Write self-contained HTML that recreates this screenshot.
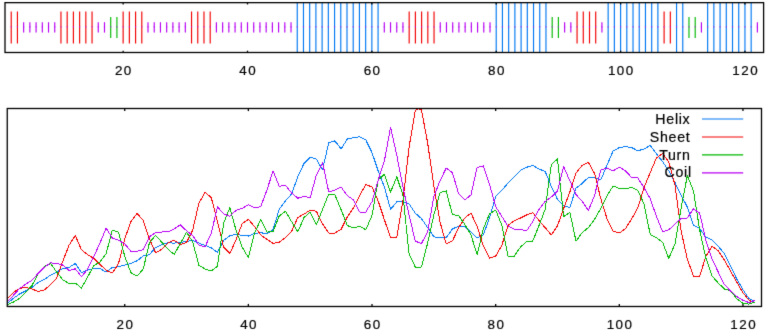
<!DOCTYPE html>
<html><head><meta charset="utf-8"><style>
html,body{margin:0;padding:0;background:#fff;}
body{width:767px;height:331px;overflow:hidden;}
svg{display:block;}
#w{width:767px;height:331px;}
text{font-family:"Liberation Sans",sans-serif;fill:#000;}
text.n{font-size:13.4px;text-anchor:middle;letter-spacing:1.5px;stroke:#000;stroke-width:0.2px;}
text.l{font-size:14.2px;text-anchor:end;letter-spacing:0.7px;stroke:#000;stroke-width:0.2px;}
</style></head><body>
<div id="w"><svg width="767" height="331" viewBox="0 0 767 331">
<defs><filter id="sf" x="0" y="0" width="100%" height="100%" filterUnits="userSpaceOnUse" color-interpolation-filters="sRGB"><feConvolveMatrix order="3" kernelMatrix="0.01000 0.08000 0.01000 0.08000 0.64000 0.08000 0.01000 0.08000 0.01000" edgeMode="duplicate" preserveAlpha="false"/></filter></defs>
<g filter="url(#sf)">
<rect width="767" height="331" fill="#fff"/>
<line x1="11.22" y1="11.5" x2="11.22" y2="43.5" stroke="#f20000" stroke-width="1.15"/>
<line x1="17.44" y1="11.5" x2="17.44" y2="43.5" stroke="#f20000" stroke-width="1.15"/>
<line x1="23.65" y1="22.2" x2="23.65" y2="32.6" stroke="#b800f2" stroke-width="1.15"/>
<line x1="29.87" y1="22.2" x2="29.87" y2="32.6" stroke="#b800f2" stroke-width="1.15"/>
<line x1="36.09" y1="22.2" x2="36.09" y2="32.6" stroke="#b800f2" stroke-width="1.15"/>
<line x1="42.31" y1="22.2" x2="42.31" y2="32.6" stroke="#b800f2" stroke-width="1.15"/>
<line x1="48.53" y1="22.2" x2="48.53" y2="32.6" stroke="#b800f2" stroke-width="1.15"/>
<line x1="54.74" y1="22.2" x2="54.74" y2="32.6" stroke="#b800f2" stroke-width="1.15"/>
<line x1="60.96" y1="11.5" x2="60.96" y2="43.5" stroke="#f20000" stroke-width="1.15"/>
<line x1="67.18" y1="11.5" x2="67.18" y2="43.5" stroke="#f20000" stroke-width="1.15"/>
<line x1="73.40" y1="11.5" x2="73.40" y2="43.5" stroke="#f20000" stroke-width="1.15"/>
<line x1="79.62" y1="11.5" x2="79.62" y2="43.5" stroke="#f20000" stroke-width="1.15"/>
<line x1="85.83" y1="11.5" x2="85.83" y2="43.5" stroke="#f20000" stroke-width="1.15"/>
<line x1="92.05" y1="11.5" x2="92.05" y2="43.5" stroke="#f20000" stroke-width="1.15"/>
<line x1="98.27" y1="22.2" x2="98.27" y2="32.6" stroke="#b800f2" stroke-width="1.15"/>
<line x1="104.49" y1="22.2" x2="104.49" y2="32.6" stroke="#b800f2" stroke-width="1.15"/>
<line x1="110.71" y1="17.0" x2="110.71" y2="38.0" stroke="#00b800" stroke-width="1.15"/>
<line x1="116.92" y1="17.0" x2="116.92" y2="38.0" stroke="#00b800" stroke-width="1.15"/>
<line x1="123.14" y1="11.5" x2="123.14" y2="43.5" stroke="#f20000" stroke-width="1.15"/>
<line x1="129.36" y1="11.5" x2="129.36" y2="43.5" stroke="#f20000" stroke-width="1.15"/>
<line x1="135.58" y1="11.5" x2="135.58" y2="43.5" stroke="#f20000" stroke-width="1.15"/>
<line x1="141.80" y1="11.5" x2="141.80" y2="43.5" stroke="#f20000" stroke-width="1.15"/>
<line x1="148.01" y1="22.2" x2="148.01" y2="32.6" stroke="#b800f2" stroke-width="1.15"/>
<line x1="154.23" y1="22.2" x2="154.23" y2="32.6" stroke="#b800f2" stroke-width="1.15"/>
<line x1="160.45" y1="22.2" x2="160.45" y2="32.6" stroke="#b800f2" stroke-width="1.15"/>
<line x1="166.67" y1="22.2" x2="166.67" y2="32.6" stroke="#b800f2" stroke-width="1.15"/>
<line x1="172.89" y1="22.2" x2="172.89" y2="32.6" stroke="#b800f2" stroke-width="1.15"/>
<line x1="179.10" y1="22.2" x2="179.10" y2="32.6" stroke="#b800f2" stroke-width="1.15"/>
<line x1="185.32" y1="22.2" x2="185.32" y2="32.6" stroke="#b800f2" stroke-width="1.15"/>
<line x1="191.54" y1="11.5" x2="191.54" y2="43.5" stroke="#f20000" stroke-width="1.15"/>
<line x1="197.76" y1="11.5" x2="197.76" y2="43.5" stroke="#f20000" stroke-width="1.15"/>
<line x1="203.98" y1="11.5" x2="203.98" y2="43.5" stroke="#f20000" stroke-width="1.15"/>
<line x1="210.20" y1="11.5" x2="210.20" y2="43.5" stroke="#f20000" stroke-width="1.15"/>
<line x1="216.41" y1="22.2" x2="216.41" y2="32.6" stroke="#b800f2" stroke-width="1.15"/>
<line x1="222.63" y1="22.2" x2="222.63" y2="32.6" stroke="#b800f2" stroke-width="1.15"/>
<line x1="228.85" y1="22.2" x2="228.85" y2="32.6" stroke="#b800f2" stroke-width="1.15"/>
<line x1="235.07" y1="22.2" x2="235.07" y2="32.6" stroke="#b800f2" stroke-width="1.15"/>
<line x1="241.29" y1="22.2" x2="241.29" y2="32.6" stroke="#b800f2" stroke-width="1.15"/>
<line x1="247.50" y1="22.2" x2="247.50" y2="32.6" stroke="#b800f2" stroke-width="1.15"/>
<line x1="253.72" y1="22.2" x2="253.72" y2="32.6" stroke="#b800f2" stroke-width="1.15"/>
<line x1="259.94" y1="22.2" x2="259.94" y2="32.6" stroke="#b800f2" stroke-width="1.15"/>
<line x1="266.16" y1="22.2" x2="266.16" y2="32.6" stroke="#b800f2" stroke-width="1.15"/>
<line x1="272.38" y1="22.2" x2="272.38" y2="32.6" stroke="#b800f2" stroke-width="1.15"/>
<line x1="278.59" y1="22.2" x2="278.59" y2="32.6" stroke="#b800f2" stroke-width="1.15"/>
<line x1="284.81" y1="22.2" x2="284.81" y2="32.6" stroke="#b800f2" stroke-width="1.15"/>
<line x1="291.03" y1="22.2" x2="291.03" y2="32.6" stroke="#b800f2" stroke-width="1.15"/>
<line x1="297.25" y1="2.65" x2="297.25" y2="52.5" stroke="#0078f2" stroke-width="1.15"/>
<line x1="303.47" y1="2.65" x2="303.47" y2="52.5" stroke="#0078f2" stroke-width="1.15"/>
<line x1="309.68" y1="2.65" x2="309.68" y2="52.5" stroke="#0078f2" stroke-width="1.15"/>
<line x1="315.90" y1="2.65" x2="315.90" y2="52.5" stroke="#0078f2" stroke-width="1.15"/>
<line x1="322.12" y1="2.65" x2="322.12" y2="52.5" stroke="#0078f2" stroke-width="1.15"/>
<line x1="328.34" y1="2.65" x2="328.34" y2="52.5" stroke="#0078f2" stroke-width="1.15"/>
<line x1="334.56" y1="2.65" x2="334.56" y2="52.5" stroke="#0078f2" stroke-width="1.15"/>
<line x1="340.77" y1="2.65" x2="340.77" y2="52.5" stroke="#0078f2" stroke-width="1.15"/>
<line x1="346.99" y1="2.65" x2="346.99" y2="52.5" stroke="#0078f2" stroke-width="1.15"/>
<line x1="353.21" y1="2.65" x2="353.21" y2="52.5" stroke="#0078f2" stroke-width="1.15"/>
<line x1="359.43" y1="2.65" x2="359.43" y2="52.5" stroke="#0078f2" stroke-width="1.15"/>
<line x1="365.65" y1="2.65" x2="365.65" y2="52.5" stroke="#0078f2" stroke-width="1.15"/>
<line x1="371.86" y1="2.65" x2="371.86" y2="52.5" stroke="#0078f2" stroke-width="1.15"/>
<line x1="378.08" y1="2.65" x2="378.08" y2="52.5" stroke="#0078f2" stroke-width="1.15"/>
<line x1="384.30" y1="22.2" x2="384.30" y2="32.6" stroke="#b800f2" stroke-width="1.15"/>
<line x1="390.52" y1="22.2" x2="390.52" y2="32.6" stroke="#b800f2" stroke-width="1.15"/>
<line x1="396.74" y1="22.2" x2="396.74" y2="32.6" stroke="#b800f2" stroke-width="1.15"/>
<line x1="402.95" y1="22.2" x2="402.95" y2="32.6" stroke="#b800f2" stroke-width="1.15"/>
<line x1="409.17" y1="11.5" x2="409.17" y2="43.5" stroke="#f20000" stroke-width="1.15"/>
<line x1="415.39" y1="11.5" x2="415.39" y2="43.5" stroke="#f20000" stroke-width="1.15"/>
<line x1="421.61" y1="11.5" x2="421.61" y2="43.5" stroke="#f20000" stroke-width="1.15"/>
<line x1="427.83" y1="11.5" x2="427.83" y2="43.5" stroke="#f20000" stroke-width="1.15"/>
<line x1="434.04" y1="11.5" x2="434.04" y2="43.5" stroke="#f20000" stroke-width="1.15"/>
<line x1="440.26" y1="22.2" x2="440.26" y2="32.6" stroke="#b800f2" stroke-width="1.15"/>
<line x1="446.48" y1="22.2" x2="446.48" y2="32.6" stroke="#b800f2" stroke-width="1.15"/>
<line x1="452.70" y1="22.2" x2="452.70" y2="32.6" stroke="#b800f2" stroke-width="1.15"/>
<line x1="458.92" y1="22.2" x2="458.92" y2="32.6" stroke="#b800f2" stroke-width="1.15"/>
<line x1="465.13" y1="22.2" x2="465.13" y2="32.6" stroke="#b800f2" stroke-width="1.15"/>
<line x1="471.35" y1="22.2" x2="471.35" y2="32.6" stroke="#b800f2" stroke-width="1.15"/>
<line x1="477.57" y1="22.2" x2="477.57" y2="32.6" stroke="#b800f2" stroke-width="1.15"/>
<line x1="483.79" y1="22.2" x2="483.79" y2="32.6" stroke="#b800f2" stroke-width="1.15"/>
<line x1="490.01" y1="22.2" x2="490.01" y2="32.6" stroke="#b800f2" stroke-width="1.15"/>
<line x1="496.22" y1="2.65" x2="496.22" y2="52.5" stroke="#0078f2" stroke-width="1.15"/>
<line x1="502.44" y1="2.65" x2="502.44" y2="52.5" stroke="#0078f2" stroke-width="1.15"/>
<line x1="508.66" y1="2.65" x2="508.66" y2="52.5" stroke="#0078f2" stroke-width="1.15"/>
<line x1="514.88" y1="2.65" x2="514.88" y2="52.5" stroke="#0078f2" stroke-width="1.15"/>
<line x1="521.10" y1="2.65" x2="521.10" y2="52.5" stroke="#0078f2" stroke-width="1.15"/>
<line x1="527.31" y1="2.65" x2="527.31" y2="52.5" stroke="#0078f2" stroke-width="1.15"/>
<line x1="533.53" y1="2.65" x2="533.53" y2="52.5" stroke="#0078f2" stroke-width="1.15"/>
<line x1="539.75" y1="2.65" x2="539.75" y2="52.5" stroke="#0078f2" stroke-width="1.15"/>
<line x1="545.97" y1="2.65" x2="545.97" y2="52.5" stroke="#0078f2" stroke-width="1.15"/>
<line x1="552.19" y1="17.0" x2="552.19" y2="38.0" stroke="#00b800" stroke-width="1.15"/>
<line x1="558.40" y1="17.0" x2="558.40" y2="38.0" stroke="#00b800" stroke-width="1.15"/>
<line x1="564.62" y1="22.2" x2="564.62" y2="32.6" stroke="#b800f2" stroke-width="1.15"/>
<line x1="570.84" y1="22.2" x2="570.84" y2="32.6" stroke="#b800f2" stroke-width="1.15"/>
<line x1="577.06" y1="11.5" x2="577.06" y2="43.5" stroke="#f20000" stroke-width="1.15"/>
<line x1="583.28" y1="11.5" x2="583.28" y2="43.5" stroke="#f20000" stroke-width="1.15"/>
<line x1="589.50" y1="11.5" x2="589.50" y2="43.5" stroke="#f20000" stroke-width="1.15"/>
<line x1="595.71" y1="11.5" x2="595.71" y2="43.5" stroke="#f20000" stroke-width="1.15"/>
<line x1="601.93" y1="22.2" x2="601.93" y2="32.6" stroke="#b800f2" stroke-width="1.15"/>
<line x1="608.15" y1="2.65" x2="608.15" y2="52.5" stroke="#0078f2" stroke-width="1.15"/>
<line x1="614.37" y1="2.65" x2="614.37" y2="52.5" stroke="#0078f2" stroke-width="1.15"/>
<line x1="620.59" y1="2.65" x2="620.59" y2="52.5" stroke="#0078f2" stroke-width="1.15"/>
<line x1="626.80" y1="2.65" x2="626.80" y2="52.5" stroke="#0078f2" stroke-width="1.15"/>
<line x1="633.02" y1="2.65" x2="633.02" y2="52.5" stroke="#0078f2" stroke-width="1.15"/>
<line x1="639.24" y1="2.65" x2="639.24" y2="52.5" stroke="#0078f2" stroke-width="1.15"/>
<line x1="645.46" y1="2.65" x2="645.46" y2="52.5" stroke="#0078f2" stroke-width="1.15"/>
<line x1="651.68" y1="2.65" x2="651.68" y2="52.5" stroke="#0078f2" stroke-width="1.15"/>
<line x1="657.89" y1="2.65" x2="657.89" y2="52.5" stroke="#0078f2" stroke-width="1.15"/>
<line x1="664.11" y1="11.5" x2="664.11" y2="43.5" stroke="#f20000" stroke-width="1.15"/>
<line x1="670.33" y1="11.5" x2="670.33" y2="43.5" stroke="#f20000" stroke-width="1.15"/>
<line x1="676.55" y1="2.65" x2="676.55" y2="52.5" stroke="#0078f2" stroke-width="1.15"/>
<line x1="682.77" y1="2.65" x2="682.77" y2="52.5" stroke="#0078f2" stroke-width="1.15"/>
<line x1="688.98" y1="17.0" x2="688.98" y2="38.0" stroke="#00b800" stroke-width="1.15"/>
<line x1="695.20" y1="17.0" x2="695.20" y2="38.0" stroke="#00b800" stroke-width="1.15"/>
<line x1="701.42" y1="22.2" x2="701.42" y2="32.6" stroke="#b800f2" stroke-width="1.15"/>
<line x1="707.64" y1="2.65" x2="707.64" y2="52.5" stroke="#0078f2" stroke-width="1.15"/>
<line x1="713.86" y1="2.65" x2="713.86" y2="52.5" stroke="#0078f2" stroke-width="1.15"/>
<line x1="720.07" y1="2.65" x2="720.07" y2="52.5" stroke="#0078f2" stroke-width="1.15"/>
<line x1="726.29" y1="2.65" x2="726.29" y2="52.5" stroke="#0078f2" stroke-width="1.15"/>
<line x1="732.51" y1="2.65" x2="732.51" y2="52.5" stroke="#0078f2" stroke-width="1.15"/>
<line x1="738.73" y1="2.65" x2="738.73" y2="52.5" stroke="#0078f2" stroke-width="1.15"/>
<line x1="744.95" y1="2.65" x2="744.95" y2="52.5" stroke="#0078f2" stroke-width="1.15"/>
<line x1="751.16" y1="2.65" x2="751.16" y2="52.5" stroke="#0078f2" stroke-width="1.15"/>
<line x1="757.38" y1="22.2" x2="757.38" y2="32.6" stroke="#b800f2" stroke-width="1.15"/>
<rect x="10.62" y="26.30" width="1.2" height="1.1" fill="#b000f0" opacity="0.75"/>
<rect x="16.84" y="26.30" width="1.2" height="1.1" fill="#b000f0" opacity="0.75"/>
<rect x="23.05" y="26.30" width="1.2" height="1.1" fill="#b000f0" opacity="0.75"/>
<rect x="29.27" y="26.30" width="1.2" height="1.1" fill="#b000f0" opacity="0.75"/>
<rect x="35.49" y="26.30" width="1.2" height="1.1" fill="#b000f0" opacity="0.75"/>
<rect x="41.71" y="26.30" width="1.2" height="1.1" fill="#b000f0" opacity="0.75"/>
<rect x="47.93" y="26.30" width="1.2" height="1.1" fill="#b000f0" opacity="0.75"/>
<rect x="54.14" y="26.30" width="1.2" height="1.1" fill="#b000f0" opacity="0.75"/>
<rect x="60.36" y="26.30" width="1.2" height="1.1" fill="#b000f0" opacity="0.75"/>
<rect x="66.58" y="26.30" width="1.2" height="1.1" fill="#b000f0" opacity="0.75"/>
<rect x="72.80" y="26.30" width="1.2" height="1.1" fill="#b000f0" opacity="0.75"/>
<rect x="79.02" y="26.30" width="1.2" height="1.1" fill="#b000f0" opacity="0.75"/>
<rect x="85.23" y="26.30" width="1.2" height="1.1" fill="#b000f0" opacity="0.75"/>
<rect x="91.45" y="26.30" width="1.2" height="1.1" fill="#b000f0" opacity="0.75"/>
<rect x="97.67" y="26.30" width="1.2" height="1.1" fill="#b000f0" opacity="0.75"/>
<rect x="103.89" y="26.30" width="1.2" height="1.1" fill="#b000f0" opacity="0.75"/>
<rect x="110.11" y="26.30" width="1.2" height="1.1" fill="#b000f0" opacity="0.75"/>
<rect x="116.32" y="26.30" width="1.2" height="1.1" fill="#b000f0" opacity="0.75"/>
<rect x="122.54" y="26.30" width="1.2" height="1.1" fill="#b000f0" opacity="0.75"/>
<rect x="128.76" y="26.30" width="1.2" height="1.1" fill="#b000f0" opacity="0.75"/>
<rect x="134.98" y="26.30" width="1.2" height="1.1" fill="#b000f0" opacity="0.75"/>
<rect x="141.20" y="26.30" width="1.2" height="1.1" fill="#b000f0" opacity="0.75"/>
<rect x="147.41" y="26.30" width="1.2" height="1.1" fill="#b000f0" opacity="0.75"/>
<rect x="153.63" y="26.30" width="1.2" height="1.1" fill="#b000f0" opacity="0.75"/>
<rect x="159.85" y="26.30" width="1.2" height="1.1" fill="#b000f0" opacity="0.75"/>
<rect x="166.07" y="26.30" width="1.2" height="1.1" fill="#b000f0" opacity="0.75"/>
<rect x="172.29" y="26.30" width="1.2" height="1.1" fill="#b000f0" opacity="0.75"/>
<rect x="178.50" y="26.30" width="1.2" height="1.1" fill="#b000f0" opacity="0.75"/>
<rect x="184.72" y="26.30" width="1.2" height="1.1" fill="#b000f0" opacity="0.75"/>
<rect x="190.94" y="26.30" width="1.2" height="1.1" fill="#b000f0" opacity="0.75"/>
<rect x="197.16" y="26.30" width="1.2" height="1.1" fill="#b000f0" opacity="0.75"/>
<rect x="203.38" y="26.30" width="1.2" height="1.1" fill="#b000f0" opacity="0.75"/>
<rect x="209.60" y="26.30" width="1.2" height="1.1" fill="#b000f0" opacity="0.75"/>
<rect x="215.81" y="26.30" width="1.2" height="1.1" fill="#b000f0" opacity="0.75"/>
<rect x="222.03" y="26.30" width="1.2" height="1.1" fill="#b000f0" opacity="0.75"/>
<rect x="228.25" y="26.30" width="1.2" height="1.1" fill="#b000f0" opacity="0.75"/>
<rect x="234.47" y="26.30" width="1.2" height="1.1" fill="#b000f0" opacity="0.75"/>
<rect x="240.69" y="26.30" width="1.2" height="1.1" fill="#b000f0" opacity="0.75"/>
<rect x="246.90" y="26.30" width="1.2" height="1.1" fill="#b000f0" opacity="0.75"/>
<rect x="253.12" y="26.30" width="1.2" height="1.1" fill="#b000f0" opacity="0.75"/>
<rect x="259.34" y="26.30" width="1.2" height="1.1" fill="#b000f0" opacity="0.75"/>
<rect x="265.56" y="26.30" width="1.2" height="1.1" fill="#b000f0" opacity="0.75"/>
<rect x="271.78" y="26.30" width="1.2" height="1.1" fill="#b000f0" opacity="0.75"/>
<rect x="277.99" y="26.30" width="1.2" height="1.1" fill="#b000f0" opacity="0.75"/>
<rect x="284.21" y="26.30" width="1.2" height="1.1" fill="#b000f0" opacity="0.75"/>
<rect x="290.43" y="26.30" width="1.2" height="1.1" fill="#b000f0" opacity="0.75"/>
<rect x="296.65" y="26.30" width="1.2" height="1.1" fill="#b000f0" opacity="0.75"/>
<rect x="302.87" y="26.30" width="1.2" height="1.1" fill="#b000f0" opacity="0.75"/>
<rect x="309.08" y="26.30" width="1.2" height="1.1" fill="#b000f0" opacity="0.75"/>
<rect x="315.30" y="26.30" width="1.2" height="1.1" fill="#b000f0" opacity="0.75"/>
<rect x="321.52" y="26.30" width="1.2" height="1.1" fill="#b000f0" opacity="0.75"/>
<rect x="327.74" y="26.30" width="1.2" height="1.1" fill="#b000f0" opacity="0.75"/>
<rect x="333.96" y="26.30" width="1.2" height="1.1" fill="#b000f0" opacity="0.75"/>
<rect x="340.17" y="26.30" width="1.2" height="1.1" fill="#b000f0" opacity="0.75"/>
<rect x="346.39" y="26.30" width="1.2" height="1.1" fill="#b000f0" opacity="0.75"/>
<rect x="352.61" y="26.30" width="1.2" height="1.1" fill="#b000f0" opacity="0.75"/>
<rect x="358.83" y="26.30" width="1.2" height="1.1" fill="#b000f0" opacity="0.75"/>
<rect x="365.05" y="26.30" width="1.2" height="1.1" fill="#b000f0" opacity="0.75"/>
<rect x="371.26" y="26.30" width="1.2" height="1.1" fill="#b000f0" opacity="0.75"/>
<rect x="377.48" y="26.30" width="1.2" height="1.1" fill="#b000f0" opacity="0.75"/>
<rect x="383.70" y="26.30" width="1.2" height="1.1" fill="#b000f0" opacity="0.75"/>
<rect x="389.92" y="26.30" width="1.2" height="1.1" fill="#b000f0" opacity="0.75"/>
<rect x="396.14" y="26.30" width="1.2" height="1.1" fill="#b000f0" opacity="0.75"/>
<rect x="402.35" y="26.30" width="1.2" height="1.1" fill="#b000f0" opacity="0.75"/>
<rect x="408.57" y="26.30" width="1.2" height="1.1" fill="#b000f0" opacity="0.75"/>
<rect x="414.79" y="26.30" width="1.2" height="1.1" fill="#b000f0" opacity="0.75"/>
<rect x="421.01" y="26.30" width="1.2" height="1.1" fill="#b000f0" opacity="0.75"/>
<rect x="427.23" y="26.30" width="1.2" height="1.1" fill="#b000f0" opacity="0.75"/>
<rect x="433.44" y="26.30" width="1.2" height="1.1" fill="#b000f0" opacity="0.75"/>
<rect x="439.66" y="26.30" width="1.2" height="1.1" fill="#b000f0" opacity="0.75"/>
<rect x="445.88" y="26.30" width="1.2" height="1.1" fill="#b000f0" opacity="0.75"/>
<rect x="452.10" y="26.30" width="1.2" height="1.1" fill="#b000f0" opacity="0.75"/>
<rect x="458.32" y="26.30" width="1.2" height="1.1" fill="#b000f0" opacity="0.75"/>
<rect x="464.53" y="26.30" width="1.2" height="1.1" fill="#b000f0" opacity="0.75"/>
<rect x="470.75" y="26.30" width="1.2" height="1.1" fill="#b000f0" opacity="0.75"/>
<rect x="476.97" y="26.30" width="1.2" height="1.1" fill="#b000f0" opacity="0.75"/>
<rect x="483.19" y="26.30" width="1.2" height="1.1" fill="#b000f0" opacity="0.75"/>
<rect x="489.41" y="26.30" width="1.2" height="1.1" fill="#b000f0" opacity="0.75"/>
<rect x="495.62" y="26.30" width="1.2" height="1.1" fill="#b000f0" opacity="0.75"/>
<rect x="501.84" y="26.30" width="1.2" height="1.1" fill="#b000f0" opacity="0.75"/>
<rect x="508.06" y="26.30" width="1.2" height="1.1" fill="#b000f0" opacity="0.75"/>
<rect x="514.28" y="26.30" width="1.2" height="1.1" fill="#b000f0" opacity="0.75"/>
<rect x="520.50" y="26.30" width="1.2" height="1.1" fill="#b000f0" opacity="0.75"/>
<rect x="526.71" y="26.30" width="1.2" height="1.1" fill="#b000f0" opacity="0.75"/>
<rect x="532.93" y="26.30" width="1.2" height="1.1" fill="#b000f0" opacity="0.75"/>
<rect x="539.15" y="26.30" width="1.2" height="1.1" fill="#b000f0" opacity="0.75"/>
<rect x="545.37" y="26.30" width="1.2" height="1.1" fill="#b000f0" opacity="0.75"/>
<rect x="551.59" y="26.30" width="1.2" height="1.1" fill="#b000f0" opacity="0.75"/>
<rect x="557.80" y="26.30" width="1.2" height="1.1" fill="#b000f0" opacity="0.75"/>
<rect x="564.02" y="26.30" width="1.2" height="1.1" fill="#b000f0" opacity="0.75"/>
<rect x="570.24" y="26.30" width="1.2" height="1.1" fill="#b000f0" opacity="0.75"/>
<rect x="576.46" y="26.30" width="1.2" height="1.1" fill="#b000f0" opacity="0.75"/>
<rect x="582.68" y="26.30" width="1.2" height="1.1" fill="#b000f0" opacity="0.75"/>
<rect x="588.90" y="26.30" width="1.2" height="1.1" fill="#b000f0" opacity="0.75"/>
<rect x="595.11" y="26.30" width="1.2" height="1.1" fill="#b000f0" opacity="0.75"/>
<rect x="601.33" y="26.30" width="1.2" height="1.1" fill="#b000f0" opacity="0.75"/>
<rect x="607.55" y="26.30" width="1.2" height="1.1" fill="#b000f0" opacity="0.75"/>
<rect x="613.77" y="26.30" width="1.2" height="1.1" fill="#b000f0" opacity="0.75"/>
<rect x="619.99" y="26.30" width="1.2" height="1.1" fill="#b000f0" opacity="0.75"/>
<rect x="626.20" y="26.30" width="1.2" height="1.1" fill="#b000f0" opacity="0.75"/>
<rect x="632.42" y="26.30" width="1.2" height="1.1" fill="#b000f0" opacity="0.75"/>
<rect x="638.64" y="26.30" width="1.2" height="1.1" fill="#b000f0" opacity="0.75"/>
<rect x="644.86" y="26.30" width="1.2" height="1.1" fill="#b000f0" opacity="0.75"/>
<rect x="651.08" y="26.30" width="1.2" height="1.1" fill="#b000f0" opacity="0.75"/>
<rect x="657.29" y="26.30" width="1.2" height="1.1" fill="#b000f0" opacity="0.75"/>
<rect x="663.51" y="26.30" width="1.2" height="1.1" fill="#b000f0" opacity="0.75"/>
<rect x="669.73" y="26.30" width="1.2" height="1.1" fill="#b000f0" opacity="0.75"/>
<rect x="675.95" y="26.30" width="1.2" height="1.1" fill="#b000f0" opacity="0.75"/>
<rect x="682.17" y="26.30" width="1.2" height="1.1" fill="#b000f0" opacity="0.75"/>
<rect x="688.38" y="26.30" width="1.2" height="1.1" fill="#b000f0" opacity="0.75"/>
<rect x="694.60" y="26.30" width="1.2" height="1.1" fill="#b000f0" opacity="0.75"/>
<rect x="700.82" y="26.30" width="1.2" height="1.1" fill="#b000f0" opacity="0.75"/>
<rect x="707.04" y="26.30" width="1.2" height="1.1" fill="#b000f0" opacity="0.75"/>
<rect x="713.26" y="26.30" width="1.2" height="1.1" fill="#b000f0" opacity="0.75"/>
<rect x="719.47" y="26.30" width="1.2" height="1.1" fill="#b000f0" opacity="0.75"/>
<rect x="725.69" y="26.30" width="1.2" height="1.1" fill="#b000f0" opacity="0.75"/>
<rect x="731.91" y="26.30" width="1.2" height="1.1" fill="#b000f0" opacity="0.75"/>
<rect x="738.13" y="26.30" width="1.2" height="1.1" fill="#b000f0" opacity="0.75"/>
<rect x="744.35" y="26.30" width="1.2" height="1.1" fill="#b000f0" opacity="0.75"/>
<rect x="750.56" y="26.30" width="1.2" height="1.1" fill="#b000f0" opacity="0.75"/>
<rect x="756.78" y="26.30" width="1.2" height="1.1" fill="#b000f0" opacity="0.75"/>
<rect x="5.0" y="2.65" width="758.60" height="49.85" fill="none" stroke="#000000" stroke-width="1.3"/>
<line x1="123.14" y1="52.5" x2="123.14" y2="50.7" stroke="#000000" stroke-width="1.3"/>
<line x1="123.14" y1="2.65" x2="123.14" y2="4.45" stroke="#000000" stroke-width="1.3"/>
<text x="123.89" y="74.6" class="n">20</text>
<line x1="247.50" y1="52.5" x2="247.50" y2="50.7" stroke="#000000" stroke-width="1.3"/>
<line x1="247.50" y1="2.65" x2="247.50" y2="4.45" stroke="#000000" stroke-width="1.3"/>
<text x="248.25" y="74.6" class="n">40</text>
<line x1="371.86" y1="52.5" x2="371.86" y2="50.7" stroke="#000000" stroke-width="1.3"/>
<line x1="371.86" y1="2.65" x2="371.86" y2="4.45" stroke="#000000" stroke-width="1.3"/>
<text x="372.61" y="74.6" class="n">60</text>
<line x1="496.22" y1="52.5" x2="496.22" y2="50.7" stroke="#000000" stroke-width="1.3"/>
<line x1="496.22" y1="2.65" x2="496.22" y2="4.45" stroke="#000000" stroke-width="1.3"/>
<text x="496.97" y="74.6" class="n">80</text>
<line x1="620.59" y1="52.5" x2="620.59" y2="50.7" stroke="#000000" stroke-width="1.3"/>
<line x1="620.59" y1="2.65" x2="620.59" y2="4.45" stroke="#000000" stroke-width="1.3"/>
<text x="621.34" y="74.6" class="n">100</text>
<line x1="744.95" y1="52.5" x2="744.95" y2="50.7" stroke="#000000" stroke-width="1.3"/>
<line x1="744.95" y1="2.65" x2="744.95" y2="4.45" stroke="#000000" stroke-width="1.3"/>
<text x="745.70" y="74.6" class="n">120</text>
<g clip-path="url(#cb)">
<polyline points="7.25,303.50 13.43,298.30 19.61,294.00 25.80,290.80 31.98,287.60 38.16,282.40 44.34,279.40 50.53,275.20 56.71,272.00 62.89,268.50 69.07,267.40 75.26,263.50 81.44,272.50 87.62,270.20 93.80,268.60 99.99,268.60 106.17,272.00 112.35,267.50 118.53,266.80 124.72,265.00 130.90,263.50 137.08,260.80 143.26,256.00 149.44,254.60 155.63,247.60 161.81,244.60 167.99,242.80 174.17,243.10 180.36,242.60 186.54,241.30 192.72,240.60 198.90,243.10 205.09,245.40 211.27,247.70 217.45,252.40 223.63,240.30 229.82,235.80 236.00,234.30 242.18,235.30 248.36,236.10 254.55,233.40 260.73,232.60 266.91,234.00 273.09,229.50 279.27,209.20 285.46,200.80 291.64,194.00 297.82,176.50 304.00,163.50 310.19,157.20 316.37,159.00 322.55,169.90 328.73,142.70 334.92,140.90 341.10,149.00 347.28,139.00 353.46,137.80 359.65,136.70 365.83,140.00 372.01,152.60 378.19,171.00 384.38,187.00 390.56,209.30 396.74,201.90 402.92,201.90 409.10,204.00 415.29,213.10 421.47,218.60 427.65,227.60 433.83,236.80 440.02,238.00 446.20,237.80 452.38,229.00 458.56,226.20 464.75,227.00 470.93,231.70 477.11,238.00 483.29,235.00 489.48,218.00 495.66,196.60 501.84,190.30 508.02,183.10 514.20,176.80 520.39,170.40 526.57,167.30 532.75,165.50 538.93,169.00 545.12,171.40 551.30,186.30 557.48,199.50 563.66,205.50 569.85,207.60 576.03,188.00 582.21,183.40 588.39,177.40 594.58,178.00 600.76,180.00 606.94,165.30 613.12,151.00 619.31,147.50 625.49,146.60 631.67,147.50 637.85,150.80 644.03,149.00 650.22,145.40 656.40,153.60 662.58,161.70 668.76,170.80 674.95,182.50 681.13,195.00 687.31,207.10 693.49,225.00 699.68,228.60 705.86,237.10 712.04,240.00 718.22,246.30 724.41,253.50 730.59,266.00 736.77,279.00 742.95,289.70 749.14,298.80 755.32,301.10" fill="none" stroke="#0078f2" stroke-width="1.0" stroke-linejoin="round" shape-rendering="crispEdges"/>
<polyline points="7.25,299.00 13.43,292.30 19.61,288.50 25.80,287.30 31.98,289.00 38.16,291.50 44.34,290.00 50.53,284.70 56.71,278.00 62.89,261.00 69.07,245.20 75.26,235.50 81.44,249.80 87.62,254.70 93.80,258.30 99.99,264.30 106.17,270.40 112.35,273.00 118.53,263.50 124.72,239.00 130.90,221.50 137.08,213.30 143.26,220.50 149.44,239.00 155.63,252.80 161.81,249.20 167.99,242.80 174.17,240.20 180.36,244.40 186.54,242.60 192.72,230.00 198.90,203.10 205.09,192.30 211.27,197.70 217.45,221.30 223.63,247.20 229.82,253.50 236.00,240.00 242.18,223.50 248.36,219.40 254.55,226.50 260.73,234.90 266.91,239.40 273.09,243.40 279.27,242.20 285.46,237.60 291.64,231.30 297.82,217.50 304.00,214.00 310.19,210.30 316.37,211.30 322.55,224.00 328.73,233.00 334.92,233.00 341.10,229.40 347.28,217.00 353.46,208.00 359.65,195.40 365.83,184.50 372.01,187.00 378.19,201.00 384.38,219.70 390.56,237.60 396.74,237.20 402.92,201.00 409.10,147.00 415.29,110.30 418.38,108.90 421.47,110.00 427.65,143.00 433.83,186.00 440.02,222.00 446.20,244.00 452.38,241.00 458.56,228.00 464.75,218.00 470.93,213.00 477.11,226.50 483.29,245.50 489.48,258.20 495.66,256.00 501.84,245.30 508.02,225.40 514.20,220.80 520.39,218.10 526.57,215.00 532.75,212.70 538.93,220.40 545.12,227.60 551.30,234.90 557.48,225.80 563.66,208.50 569.85,192.00 576.03,173.00 582.21,165.40 588.39,162.30 594.58,173.50 600.76,198.60 606.94,218.50 613.12,231.20 619.31,233.00 625.49,228.50 631.67,219.00 637.85,207.60 644.03,187.70 650.22,172.50 656.40,158.10 662.58,153.60 668.76,161.70 674.95,185.00 681.13,231.00 687.31,259.00 693.49,276.20 699.68,276.20 705.86,256.30 712.04,246.30 718.22,250.80 724.41,260.00 730.59,271.20 736.77,282.20 742.95,292.80 749.14,300.30 755.32,303.30" fill="none" stroke="#f20000" stroke-width="1.0" stroke-linejoin="round" shape-rendering="crispEdges"/>
<polyline points="7.25,305.00 13.43,302.00 19.61,298.30 25.80,292.30 31.98,285.50 38.16,274.00 44.34,266.60 50.53,263.50 56.71,272.00 62.89,280.00 69.07,283.50 75.26,283.00 81.44,288.00 87.62,277.00 93.80,265.50 99.99,262.00 106.17,253.50 112.35,230.00 118.53,232.30 124.72,256.30 130.90,272.60 137.08,276.20 143.26,269.00 149.44,242.70 155.63,235.30 161.81,242.30 167.99,249.20 174.17,254.40 180.36,243.50 186.54,232.30 192.72,242.00 198.90,265.30 205.09,269.00 211.27,271.00 217.45,266.20 223.63,223.30 229.82,207.70 236.00,230.00 242.18,247.20 248.36,257.60 254.55,233.10 260.73,219.50 266.91,232.20 273.09,231.30 279.27,215.90 285.46,211.30 291.64,221.70 297.82,231.70 304.00,217.60 310.19,212.20 316.37,224.80 322.55,209.40 328.73,194.00 334.92,195.00 341.10,209.60 347.28,225.50 353.46,228.00 359.65,226.20 365.83,229.80 372.01,215.30 378.19,180.00 384.38,174.20 390.56,192.20 396.74,176.80 402.92,195.00 409.10,254.00 415.29,267.00 421.47,267.00 427.65,243.00 433.83,215.00 440.02,192.70 446.20,190.90 452.38,214.50 458.56,215.60 464.75,224.30 470.93,234.70 477.11,254.70 483.29,229.00 489.48,214.00 495.66,210.00 501.84,225.40 508.02,256.20 514.20,256.20 520.39,247.10 526.57,241.70 532.75,241.00 538.93,225.80 545.12,209.50 551.30,164.50 557.48,159.00 563.66,216.70 569.85,212.30 576.03,241.20 582.21,232.60 588.39,227.60 594.58,219.40 600.76,208.50 606.94,195.80 613.12,186.00 619.31,188.50 625.49,188.60 631.67,187.50 637.85,190.40 644.03,204.00 650.22,234.40 656.40,237.70 662.58,242.20 668.76,258.50 674.95,244.00 681.13,208.00 687.31,175.70 693.49,191.00 699.68,230.00 705.86,258.00 712.04,276.00 718.22,283.00 724.41,289.00 730.59,290.50 736.77,298.80 742.95,303.30 749.14,304.10 755.32,301.80" fill="none" stroke="#00b800" stroke-width="1.0" stroke-linejoin="round" shape-rendering="crispEdges"/>
<polyline points="7.25,302.00 13.43,295.30 19.61,288.50 25.80,284.00 31.98,280.20 38.16,273.40 44.34,267.30 50.53,262.80 56.71,263.50 62.89,265.10 69.07,270.50 75.26,268.80 81.44,276.70 87.62,269.20 93.80,256.50 99.99,243.00 106.17,228.00 112.35,238.10 118.53,240.30 124.72,243.80 130.90,251.20 137.08,251.20 143.26,249.70 149.44,236.80 155.63,232.40 161.81,232.00 167.99,231.80 174.17,229.00 180.36,224.80 186.54,230.80 192.72,235.60 198.90,245.00 205.09,246.80 211.27,233.20 217.45,206.80 223.63,214.00 229.82,216.20 236.00,210.40 242.18,208.30 248.36,204.70 254.55,208.00 260.73,206.60 266.91,190.00 273.09,171.00 279.27,186.30 285.46,185.40 291.64,193.00 297.82,198.20 304.00,196.40 310.19,197.70 316.37,175.00 322.55,162.60 328.73,192.00 334.92,190.00 341.10,187.00 347.28,195.60 353.46,199.90 359.65,212.00 365.83,212.00 372.01,201.70 378.19,180.00 384.38,161.00 390.56,127.30 396.74,155.00 402.92,187.00 409.10,215.00 415.29,241.20 421.47,243.50 427.65,231.80 433.83,196.80 440.02,180.80 446.20,168.10 452.38,172.70 458.56,193.50 464.75,199.90 470.93,195.00 477.11,167.50 483.29,165.90 489.48,184.00 495.66,206.50 501.84,216.50 508.02,226.30 514.20,229.00 520.39,229.40 526.57,230.80 532.75,221.80 538.93,209.50 545.12,201.50 551.30,197.00 557.48,191.00 563.66,166.70 569.85,180.80 576.03,194.50 582.21,201.50 588.39,210.50 594.58,195.40 600.76,170.00 606.94,168.10 613.12,170.80 619.31,167.20 625.49,170.80 631.67,177.50 637.85,177.90 644.03,187.80 650.22,198.60 656.40,216.30 662.58,231.70 668.76,229.90 674.95,224.10 681.13,218.40 687.31,218.00 693.49,208.90 699.68,213.10 705.86,240.50 712.04,259.00 718.22,272.00 724.41,284.50 730.59,291.00 736.77,296.50 742.95,300.30 749.14,302.60 755.32,300.30" fill="none" stroke="#b800f2" stroke-width="1.0" stroke-linejoin="round" shape-rendering="crispEdges"/>
</g>
<clipPath id="cb"><rect x="7.25" y="108.5" width="754.25" height="198.00"/></clipPath>
<line x1="702" y1="119.0" x2="743.2" y2="119.0" stroke="#0078f2" stroke-width="1.15"/>
<text x="690.4" y="123.8" class="l">Helix</text>
<line x1="702" y1="137.0" x2="743.2" y2="137.0" stroke="#f20000" stroke-width="1.15"/>
<text x="690.4" y="141.6" class="l">Sheet</text>
<line x1="702" y1="154.9" x2="743.2" y2="154.9" stroke="#00b800" stroke-width="1.15"/>
<text x="690.6" y="159.6" class="l">Turn</text>
<line x1="702" y1="172.9" x2="743.2" y2="172.9" stroke="#b800f2" stroke-width="1.15"/>
<text x="691.8" y="177.3" class="l">Coil</text>
<rect x="7.25" y="108.5" width="754.25" height="198.00" fill="none" stroke="#000000" stroke-width="1.3"/>
<line x1="124.72" y1="306.5" x2="124.72" y2="303.9" stroke="#000000" stroke-width="1.3"/>
<line x1="124.72" y1="108.5" x2="124.72" y2="111.1" stroke="#000000" stroke-width="1.3"/>
<text x="125.47" y="329.0" class="n">20</text>
<line x1="248.36" y1="306.5" x2="248.36" y2="303.9" stroke="#000000" stroke-width="1.3"/>
<line x1="248.36" y1="108.5" x2="248.36" y2="111.1" stroke="#000000" stroke-width="1.3"/>
<text x="249.11" y="329.0" class="n">40</text>
<line x1="372.01" y1="306.5" x2="372.01" y2="303.9" stroke="#000000" stroke-width="1.3"/>
<line x1="372.01" y1="108.5" x2="372.01" y2="111.1" stroke="#000000" stroke-width="1.3"/>
<text x="372.76" y="329.0" class="n">60</text>
<line x1="495.66" y1="306.5" x2="495.66" y2="303.9" stroke="#000000" stroke-width="1.3"/>
<line x1="495.66" y1="108.5" x2="495.66" y2="111.1" stroke="#000000" stroke-width="1.3"/>
<text x="496.41" y="329.0" class="n">80</text>
<line x1="619.31" y1="306.5" x2="619.31" y2="303.9" stroke="#000000" stroke-width="1.3"/>
<line x1="619.31" y1="108.5" x2="619.31" y2="111.1" stroke="#000000" stroke-width="1.3"/>
<text x="620.06" y="329.0" class="n">100</text>
<line x1="742.95" y1="306.5" x2="742.95" y2="303.9" stroke="#000000" stroke-width="1.3"/>
<line x1="742.95" y1="108.5" x2="742.95" y2="111.1" stroke="#000000" stroke-width="1.3"/>
<text x="743.70" y="329.0" class="n">120</text>
</g></svg></div>
</body></html>
